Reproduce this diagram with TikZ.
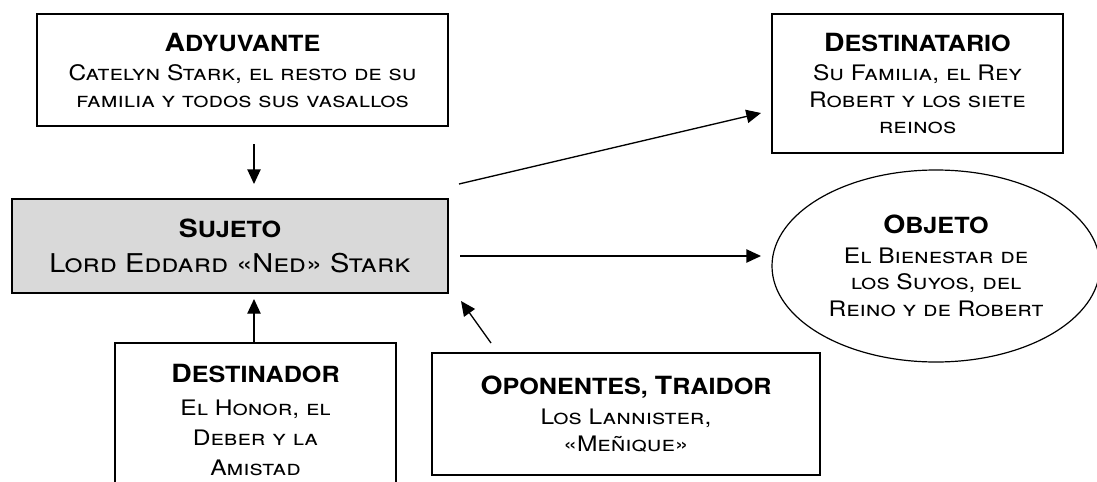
\documentclass[tikz,border=0pt]{standalone}
\usepackage{fontspec}
\setmainfont{TeX Gyre Heros}[FakeStretch=1.12]
\newfontfamily\bodyfam{TeX Gyre Heros}[FakeStretch=1.15]
\newfontfamily\ttlfam{TeX Gyre Heros}[FakeStretch=1.13]
\usetikzlibrary{arrows.meta,shapes.geometric}
\newcommand\ttlf{\ttlfam\fontsize{16.7}{22.5}\selectfont\bfseries}
\newcommand\Ini[1]{{\fontsize{18.8}{22.5}\selectfont #1}}
\newcommand\bodyf{\bodyfam\fontsize{16}{20}\selectfont\mdseries\scshape}
\newcommand\dorf{\bodyfam\fontsize{16}{22.5}\selectfont\mdseries\scshape}
\newcommand\bigbodyf{\fontsize{19.4}{26}\selectfont\mdseries\scshape}
\tikzset{
  box/.style={draw=black, line width=1.5pt, inner sep=0pt, align=center, text=black, font=\bodyf},
  subj/.style={box, fill=black!15, font=\bigbodyf},
  goal/.style={draw=black, line width=0.9pt, ellipse, inner sep=0pt, align=center, font=\bodyf},
  arr/.style={line width=1pt, -{Triangle[length=11pt,width=10pt]}},
}
\begin{document}
\begin{tikzpicture}[x=0.75pt,y=-0.75pt]
\useasboundingbox (0,0) rectangle (1097,482);
\clip (0,0) rectangle (1097,482);
\fill[white] (0,0) rectangle (1097,482);

\node[box, minimum width=308.25pt, minimum height=84pt] (ady) at (242.5,70)
  {\ttlf\Ini{A}DYUVANTE\\[2pt]Catelyn Stark, el resto de su\\familia y todos sus vasallos};

\node[subj, minimum width=327pt, minimum height=70.5pt] (suj) at (230,246)
  {\ttlf\Ini{S}UJETO\\Lord Eddard «Ned» Stark};

\node[box, minimum width=218.25pt, minimum height=104.25pt] (dest) at (917.5,83.5)
  {\ttlf\Ini{D}ESTINATARIO\\[2pt]Su Familia, el Rey\\Robert y los siete\\reinos};

\node[goal, minimum width=246pt, minimum height=144pt] (obj) at (936,266)
  {\ttlf\Ini{O}BJETO\\[2pt]El Bienestar de\\los Suyos, del\\Reino y de Robert};

\node[box, font=\dorf, minimum width=210.75pt, minimum height=115.5pt] (dor) at (255.5,420)
  {\ttlf\Ini{D}ESTINADOR\\[2pt]El Honor, el\\Deber y la\\Amistad};

\node[box, minimum width=291pt, minimum height=91.5pt] (opo) at (626,414)
  {\ttlf\Ini{O}PONENTES, \Ini{T}RAIDOR\\[3pt]Los Lannister,\\«Meñique»};

\coordinate (a1s) at (254,144);
\coordinate (a1e) at (254,184);
\draw[arr] (a1s) -- (a1e);

\draw[arr, shorten >=3.75pt] (dor.north -| 254,0) -- (254,0 |- suj.south);

\coordinate (a3s) at (491,343);
\coordinate (a3e) at (461,301);
\draw[arr] (a3s) -- (a3e);

\coordinate (a4s) at (460,256);
\coordinate (a4e) at (761,256);
\draw[arr] (a4s) -- (a4e);

\coordinate (a5s) at (459,184);
\coordinate (a5e) at (761,113);
\draw[arr] (a5s) -- (a5e);
\end{tikzpicture}
\end{document}
